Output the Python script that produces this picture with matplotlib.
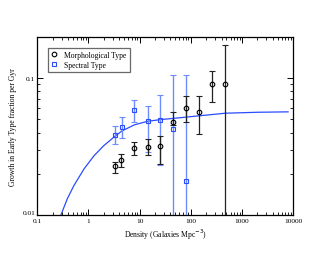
import matplotlib
matplotlib.use("Agg")
import matplotlib.pyplot as plt
from matplotlib.lines import Line2D
from matplotlib.ticker import LogLocator, NullFormatter, FixedLocator, FixedFormatter

plt.rcParams['font.family'] = ['Liberation Serif', 'DejaVu Serif']

# Morphological type (circles)
morph_x = [3.36, 4.4, 7.85, 14.4, 25.6, 45.5, 80.9, 146, 260, 462]
morph_y = [0.0226, 0.0252, 0.0306, 0.0315, 0.032, 0.0479, 0.0607, 0.0567, 0.0904, 0.0904]
morph_lo = [0.0202, 0.0223, 0.0275, 0.0272, 0.0235, 0.0456, 0.0476, 0.0389, 0.0667, 0.005]
morph_hi = [0.0245, 0.0281, 0.034, 0.0356, 0.038, 0.0564, 0.0734, 0.0742, 0.1125, 0.175]

# Spectral type (squares)
spec_x = [3.36, 4.45, 7.95, 14.4, 25.6, 45.5, 80.9]
spec_y = [0.0385, 0.044, 0.0587, 0.0485, 0.049, 0.0421, 0.0176]
spec_lo = [0.0327, 0.0366, 0.0479, 0.029, 0.0233, 0.001, 0.001]
spec_hi = [0.0448, 0.0515, 0.0694, 0.0621, 0.0747, 0.1047, 0.1047]

# fitted curve
fit_x = [0.29, 0.385, 0.52, 0.82, 1.3, 2.0, 3.2, 4.5, 7.9, 14.4, 26, 48, 150, 470, 2000, 8000]
fit_y = [0.010, 0.0131, 0.0164, 0.0217, 0.0272, 0.0321, 0.0372, 0.041, 0.0455,
         0.0483, 0.0497, 0.0508, 0.053, 0.0553, 0.0562, 0.0566]

fig = plt.figure(figsize=(3.3, 2.55), dpi=100)
ax = fig.add_axes([0.113, 0.153, 0.775, 0.699])

blue = '#2b4cff'
ax.plot(fit_x, fit_y, color=blue, lw=0.9, zorder=1)

s_err = [[y - l for y, l in zip(spec_y, spec_lo)], [h - y for y, h in zip(spec_y, spec_hi)]]
ax.errorbar(spec_x, spec_y, yerr=s_err, fmt='s', ms=3, mfc='none', mec=blue, mew=0.8,
            ecolor='#6f8cff', elinewidth=1.0, capsize=2.2, capthick=1.0, zorder=2)

m_err = [[y - l for y, l in zip(morph_y, morph_lo)], [h - y for y, h in zip(morph_y, morph_hi)]]
ax.errorbar(morph_x, morph_y, yerr=m_err, fmt='o', ms=3.3, mfc='none', mec='black', mew=0.8,
            ecolor='#222222', elinewidth=0.9, capsize=2.2, capthick=0.9, zorder=3)

ax.set_xscale('log')
ax.set_yscale('log')
ax.set_xlim(0.1, 10000)
ax.set_ylim(0.01, 0.2)

ax.xaxis.set_major_locator(FixedLocator([0.1, 1, 10, 100, 1000, 10000]))
ax.xaxis.set_major_formatter(FixedFormatter(['0.1', '1', '10', '100', '1000', '10000']))
ax.xaxis.set_minor_locator(LogLocator(base=10, subs=range(2, 10), numticks=20))
ax.xaxis.set_minor_formatter(NullFormatter())
ax.yaxis.set_major_locator(FixedLocator([0.01, 0.1]))
ax.yaxis.set_major_formatter(FixedFormatter(['0.01', '0.1']))
ax.yaxis.set_minor_locator(LogLocator(base=10, subs=range(2, 10), numticks=20))
ax.yaxis.set_minor_formatter(NullFormatter())

ax.tick_params(which='both', direction='in', top=True, right=True, labelsize=5.3)
ax.tick_params(axis='x', pad=2.5)
ax.tick_params(axis='y', pad=1.5)
ax.tick_params(which='major', length=4, width=0.7)
ax.tick_params(which='minor', length=2, width=0.6)
for sp in ax.spines.values():
    sp.set_linewidth(0.9)
# nudge the 0.01 label up a touch, as in the original
ax.get_yticklabels()[0].set_verticalalignment('bottom')

ax.set_xlabel('Density (Galaxies Mpc$^{-3}$)', fontsize=5.5, labelpad=2)
ax.set_ylabel('Growth in Early Type fraction per Gyr', fontsize=5.5, labelpad=4)

handles = [
    Line2D([], [], ls='none', marker='o', ms=3.3, mfc='none', mec='black', mew=0.8),
    Line2D([], [], ls='none', marker='s', ms=3, mfc='none', mec=blue, mew=0.8),
]
leg = ax.legend(handles, ['Morphological Type', 'Spectral Type'], loc='upper left', fontsize=5.5,
                frameon=True, fancybox=False, edgecolor='#444444', borderpad=0.4,
                handlelength=1.0, handletextpad=0.8, labelspacing=0.3,
                bbox_to_anchor=(0.025, 0.96))
leg.get_frame().set_linewidth(0.9)

fig.savefig('out.png', dpi=100)
